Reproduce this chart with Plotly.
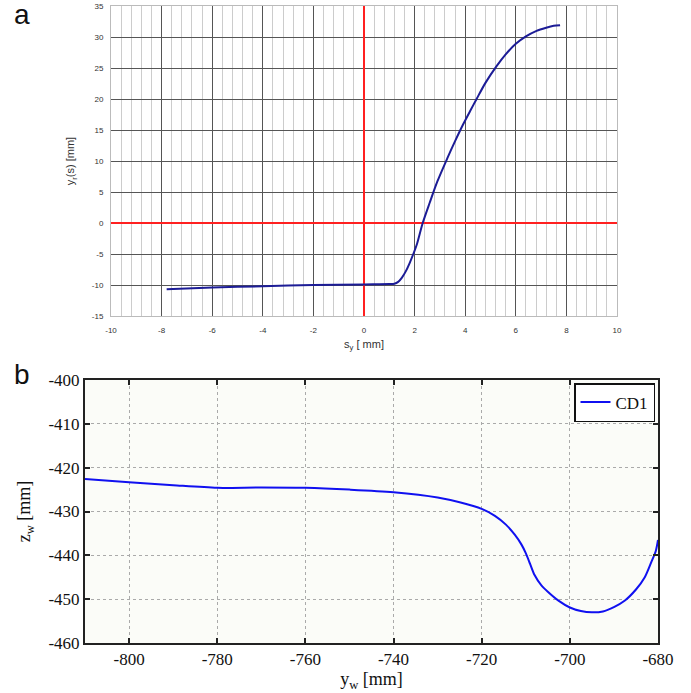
import plotly.graph_objects as go

# Panel a data
sy = [-7.8, -6.0, -4.0, -2.0, 0.0, 1.0, 1.2, 1.35, 1.5, 1.65, 1.8, 1.95, 2.1, 2.32, 2.6, 2.9, 3.3,
      3.6, 3.93, 4.2, 4.45, 4.8, 5.24, 5.6, 6.0, 6.4, 6.82, 7.2, 7.5, 7.75]
yr = [-10.7, -10.4, -10.2, -10.0, -9.9, -9.85, -9.8, -9.5, -8.8, -7.8, -6.5, -5.0, -3.3, 0.0, 3.3, 6.7, 10.5,
      13.2, 16.0, 18.1, 20.0, 22.6, 25.3, 27.2, 28.9, 30.1, 31.0, 31.5, 31.8, 31.9]
a_xticks = [-10, -8, -6, -4, -2, 0, 2, 4, 6, 8, 10]
a_xlabels = ["-10", "-8", "-6", "-4", "-2", "0", "2", "4", "6", "8", "10"]
a_yticks = [-15, -10, -5, 0, 5, 10, 15, 20, 25, 30, 35]
a_ylabels = ["-15", "-10", "-5", "0", "5", "10", "15", "20", "25", "30", "35"]

# Panel b data
yw = [-810, -800, -790, -780, -770, -760, -750, -740, -730, -725, -720, -717, -714.5, -712.5, -711, -710,
      -709, -708, -706.5, -705, -702.5, -700, -697.5, -695, -692.5, -690, -687.5, -685, -683, -681.5,
      -680.5, -680]
zw = [-422.6, -423.3, -424.0, -424.6, -424.5, -424.6, -425.0, -425.6, -426.8, -427.9, -429.4, -431.0,
      -433.0, -435.3, -437.5, -439.5, -442.0, -444.5, -446.8, -448.3, -450.4, -451.9, -452.7, -453.0,
      -452.8, -451.8, -450.3, -447.8, -445.0, -441.5, -439.0, -436.5]
b_xticks = [-800, -780, -760, -740, -720, -700, -680]
b_xlabels = ["-800", "-780", "-760", "-740", "-720", "-700", "-680"]
b_yticks = [-460, -450, -440, -430, -420, -410, -400]
b_ylabels = ["-460", "-450", "-440", "-430", "-420", "-410", "-400"]

W, H = 691, 693

def px_x(a, b):
    return [a / W, b / W]

def px_y(top, bottom):
    return [1 - bottom / H, 1 - top / H]

fig = go.Figure()
fig.add_trace(go.Scatter(x=sy, y=yr, mode="lines",
                         line=dict(color="#1c1c96", width=2, shape="spline", smoothing=0.8),
                         xaxis="x", yaxis="y", showlegend=False))
fig.add_trace(go.Scatter(x=yw, y=zw, mode="lines",
                         line=dict(color="#1010f0", width=2, shape="spline", smoothing=0.8),
                         xaxis="x2", yaxis="y2", name="CD1", showlegend=True))

sans = "Liberation Sans, Arial, sans-serif"
serif = "Liberation Serif, Times New Roman, serif"

fig.update_layout(
    width=W, height=H,
    margin=dict(l=0, r=0, t=0, b=0, autoexpand=False),
    paper_bgcolor="white",
    plot_bgcolor="white",
    xaxis=dict(
        domain=px_x(111, 617), anchor="y", range=[-10, 10],
        tickmode="array", tickvals=a_xticks, ticktext=a_xlabels,
        showgrid=True, gridcolor="#555555", gridwidth=1.2,
        minor=dict(dtick=0.4, tick0=0, showgrid=True, gridcolor="#cccccc", gridwidth=1),
        zeroline=True, zerolinecolor="#ff2020", zerolinewidth=2,
        showline=True, linecolor="#bbbbbb", linewidth=1, mirror=True,
        ticks="", tickfont=dict(family=sans, size=8, color="#333333"), ticklabelstandoff=6,
        automargin=False,
        title=dict(text="s<sub>y</sub> [ mm]", font=dict(family=sans, size=11, color="#333333"), standoff=6),
    ),
    yaxis=dict(
        domain=px_y(6, 316), anchor="x", range=[-15, 35],
        tickmode="array", tickvals=a_yticks, ticktext=a_ylabels,
        showgrid=True, gridcolor="#555555", gridwidth=1.2,
        zeroline=True, zerolinecolor="#ff2020", zerolinewidth=2,
        showline=True, linecolor="#bbbbbb", linewidth=1, mirror=True,
        ticks="", tickfont=dict(family=sans, size=8, color="#333333"), ticklabelstandoff=5,
        automargin=False,
        title=dict(text="y<sub>r</sub>(s) [mm]", font=dict(family=sans, size=11, color="#333333"), standoff=14),
    ),
    xaxis2=dict(
        domain=px_x(85, 658), anchor="y2", range=[-810, -680],
        tickmode="array", tickvals=b_xticks, ticktext=b_xlabels,
        showgrid=True, gridcolor="#aaaaaa", gridwidth=1, griddash="dot",
        zeroline=False,
        showline=True, linecolor="#222222", linewidth=2, mirror="ticks",
        ticks="inside", ticklen=5, tickcolor="#222222", tickwidth=1.5,
        tickfont=dict(family=serif, size=17, color="#111111"),
        automargin=False,
        title=dict(text="y<sub>w</sub> [mm]", font=dict(family=serif, size=18, color="#111111"), standoff=2),
    ),
    yaxis2=dict(
        domain=px_y(380, 643), anchor="x2", range=[-460, -400],
        tickmode="array", tickvals=b_yticks, ticktext=b_ylabels,
        showgrid=True, gridcolor="#aaaaaa", gridwidth=1, griddash="dot",
        zeroline=False,
        showline=True, linecolor="#222222", linewidth=2, mirror="ticks",
        ticks="inside", ticklen=5, tickcolor="#222222", tickwidth=1.5,
        tickfont=dict(family=serif, size=17, color="#111111"),
        automargin=False,
        title=dict(text="z<sub>w</sub> [mm]", font=dict(family=serif, size=18, color="#111111"), standoff=13),
    ),
    legend=dict(
        x=655 / W, y=1 - 383 / H, xanchor="right", yanchor="top",
        bgcolor="white", bordercolor="#111111", borderwidth=1.5,
        font=dict(family=serif, size=17, color="#111111"),
        itemwidth=30, tracegroupgap=0,
    ),
    annotations=[
        dict(text="a", x=22 / W, y=1 - 14 / H, xref="paper", yref="paper", showarrow=False,
             xanchor="center", yanchor="middle", font=dict(family=sans, size=28, color="#111111")),
        dict(text="b", x=22 / W, y=1 - 374 / H, xref="paper", yref="paper", showarrow=False,
             xanchor="center", yanchor="middle", font=dict(family=sans, size=28, color="#111111")),
    ],
)

# faint tinted background for panel b
fig.add_shape(type="rect", xref="x2 domain", yref="y2 domain", x0=0, x1=1, y0=0, y1=1,
              fillcolor="#fbfcf8", line=dict(width=0), layer="below")

fig.write_html("out.html")
